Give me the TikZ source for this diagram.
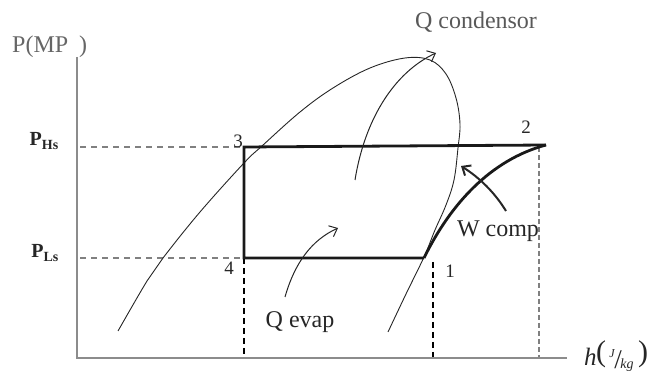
\documentclass[tikz,border=0pt]{standalone}
\usepackage{fontspec}
\setmainfont{Liberation Serif}
\usetikzlibrary{arrows.meta}
\begin{document}
\begin{tikzpicture}[x=1pt,y=-1pt,
  axis/.style={draw=black!45,line width=1.6pt},
  guide/.style={draw=black!50,line width=1.2pt,dash pattern=on 6pt off 5pt},
  guideblack/.style={draw=black,line width=1.6pt,dash pattern=on 6pt off 4pt},
  cyc/.style={draw=black!90,line width=2.8pt},
  thin/.style={draw=black!85,line width=0.9pt},
  flow/.style={draw=black!85,line width=1pt,-{Straight Barb[length=7pt,width=12pt,line width=1pt]}},
  lbl/.style={font=\fontsize{24}{26}\selectfont,text=black!85,inner sep=0pt},
  num/.style={font=\fontsize{19}{21}\selectfont,text=black!85,inner sep=0pt},
  unit/.style={inner sep=0pt,text=black!85}]
\useasboundingbox (0,0) rectangle (649,377);
% axes
\coordinate (o) at (77,358);
\coordinate (ytop) at (77,57);
\coordinate (xend) at (567,358);
\draw[axis] (ytop) -- (o) -- (xend);
\node[lbl,text=black!60,anchor=west] (plab) at (12,47) {P(MP};
\node[lbl,text=black!60,anchor=west] (plab2) at (79,47) {)};
% unit label h(J/kg)
\node[unit,anchor=base west,font=\fontsize{25}{27}\selectfont\itshape] (hl) at (584,365) {h};
\node[unit,anchor=base west,font=\fontsize{30}{30}\selectfont] (lp) at (596,362) {(};
\node[unit,anchor=base,font=\fontsize{12}{13}\selectfont\itshape] (jl) at (612,357) {J};
\node[unit,anchor=base,font=\fontsize{27}{27}\selectfont] (sl) at (618,369) {/};
\node[unit,anchor=base,font=\fontsize{14}{15}\selectfont\itshape] (kgl) at (627,368) {kg};
\node[unit,anchor=base west,font=\fontsize{30}{30}\selectfont] (rp) at (638,362) {)};
% cycle points
\coordinate (p3) at (244,147);
\coordinate (p4) at (244,258);
\coordinate (p1) at (424,258);
\coordinate (p2) at (546,145);
\coordinate (ph) at (80,147);
\coordinate (pl) at (80,258);
\coordinate (b4) at (244,357);
\coordinate (b1) at (433,357);
\coordinate (b2) at (539,357);
\coordinate (t1) at (433,262);
\coordinate (t2) at (539,147);
% guides
\draw[guide] (ph) -- (p3);
\draw[guide] (pl) -- (p4);
\draw[guideblack] (p4) -- (b4);
\draw[guideblack,line width=1.3pt] (t1) -- (b1);
\draw[guide,line width=1.6pt,dash pattern=on 5pt off 3pt] (t2) -- (b2);
\node[num,font=\fontsize{20}{22}\selectfont\bfseries,anchor=east] (phs) at (59,141) {P$_{\mathbf{Hs}}$};
\node[num,font=\fontsize{20}{22}\selectfont\bfseries,anchor=east] (pls) at (59,253) {P$_{\mathbf{Ls}}$};
% saturation dome
\draw[thin] plot[smooth,tension=0.6] coordinates {(118,331) (147,281) (163,258) (200,212) (244,163) (262,146) (300,112) (333,88) (370,68) (405,58) (430,60) (446,74) (456,98) (460,124) (458,148) (454,180) (446,205) (435,230) (424,257) (406,294) (388,332)};
% cycle
\draw[cyc] (p1) -- (p4) -- (p3) -- (p2);
\draw[cyc] (p1) .. controls (450,205) and (490,160) .. (p2);
% labels of points
\node[num] (n1) at (450,271) {1};
\node[num] (n2) at (526,127) {2};
\node[num] (n3) at (238,141) {3};
\node[num] (n4) at (229,268) {4};
% heat and work arrows
\coordinate (qcs) at (355,180);
\coordinate (qce) at (436,53);
\draw[flow] (qcs) .. controls (365,118) and (395,72) .. (qce);
\coordinate (qes) at (285,297);
\coordinate (qee) at (338,228);
\draw[flow] (qes) .. controls (295,262) and (312,240) .. (qee);
\coordinate (wcs) at (506,211);
\coordinate (wce) at (461,166);
\draw[flow,line width=2pt,-{Straight Barb[length=7pt,width=12pt,line width=2pt]}] (wcs) .. controls (495,193) and (480,178) .. (wce);
\node[lbl,text=black!65] (qc) at (476,22) {Q condensor};
\node[lbl] (qe) at (300,322) {Q evap};
\node[lbl] (wc) at (498,231) {W comp};
\end{tikzpicture}
\end{document}
